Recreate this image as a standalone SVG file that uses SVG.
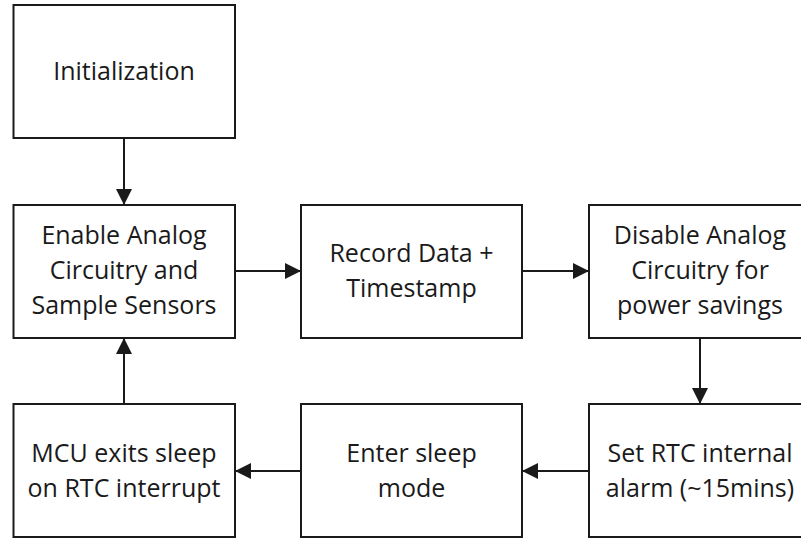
<svg xmlns="http://www.w3.org/2000/svg" width="801" height="540" viewBox="0 0 801 540">
<style>
.box{fill:#fff;stroke:#1a1a1a;stroke-width:2}
.lbl{font-family:"Open Sans","Noto Sans","Liberation Sans",sans-serif;font-size:25px;fill:#1a1a1a;text-anchor:middle}
.con{stroke:#1a1a1a;stroke-width:2;fill:none;marker-end:url(#ah)}
</style>
<defs>
<marker id="ah" markerUnits="userSpaceOnUse" markerWidth="16" markerHeight="16" viewBox="0 0 16 16" refX="16" refY="8" orient="auto">
<path d="M0,0 L16,8 L0,16 Z" fill="#1a1a1a"/>
</marker>
</defs>
<rect width="801" height="540" fill="#fff"/>
<g id="connectors">
<line class="con" x1="124" y1="138" x2="124" y2="205"/>
<line class="con" x1="235" y1="271" x2="301" y2="271"/>
<line class="con" x1="522" y1="271" x2="589" y2="271"/>
<line class="con" x1="700" y1="338" x2="700" y2="404"/>
<line class="con" x1="589" y1="471" x2="522" y2="471"/>
<line class="con" x1="301" y1="471" x2="235" y2="471"/>
<line class="con" x1="124" y1="404" x2="124" y2="338"/>
</g>
<g id="init">
<rect class="box" x="13.5" y="5" width="221.5" height="133"/>
<text class="lbl" x="124" y="80">Initialization</text>
</g>
<g id="enable">
<rect class="box" x="13.5" y="205" width="221.5" height="133"/>
<text class="lbl" x="124" y="244">Enable Analog</text>
<text class="lbl" x="124" y="279">Circuitry and</text>
<text class="lbl" x="124" y="314">Sample Sensors</text>
</g>
<g id="record">
<rect class="box" x="301" y="205" width="221" height="133"/>
<text class="lbl" x="411.5" y="262">Record Data +</text>
<text class="lbl" x="411.5" y="297">Timestamp</text>
</g>
<g id="disable">
<rect class="box" x="589" y="205" width="222" height="133"/>
<text class="lbl" x="700" y="244">Disable Analog</text>
<text class="lbl" x="700" y="279">Circuitry for</text>
<text class="lbl" x="700" y="314">power savings</text>
</g>
<g id="setrtc">
<rect class="box" x="589" y="404" width="222" height="133"/>
<text class="lbl" x="700" y="462">Set RTC internal</text>
<text class="lbl" x="700" y="497">alarm (~15mins)</text>
</g>
<g id="sleep">
<rect class="box" x="301" y="404" width="221" height="133"/>
<text class="lbl" x="411.5" y="462">Enter sleep</text>
<text class="lbl" x="411.5" y="497">mode</text>
</g>
<g id="mcu">
<rect class="box" x="13.5" y="404" width="221.5" height="133"/>
<text class="lbl" x="124" y="462">MCU exits sleep</text>
<text class="lbl" x="124" y="497">on RTC interrupt</text>
</g>
</svg>
